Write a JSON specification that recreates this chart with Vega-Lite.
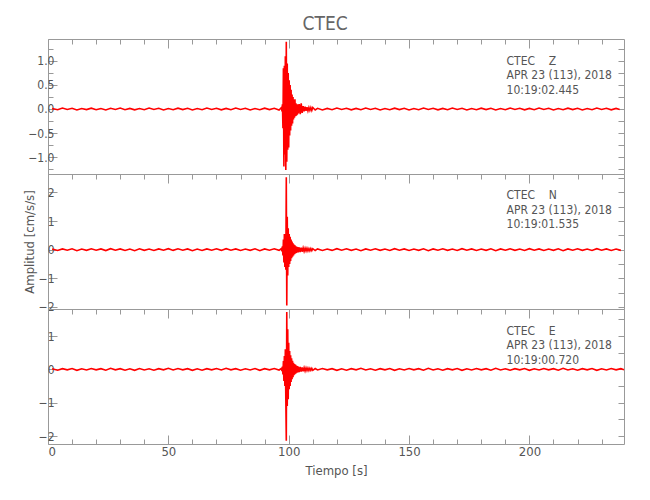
{
"$schema": "https://vega.github.io/schema/vega-lite/v6.json",
"padding": {"left": 22, "top": 15, "right": 5, "bottom": 5},
"title": {"text": "CTEC", "fontSize": 19, "color": "#666", "fontWeight": "normal", "anchor": "middle", "offset": 4},
"bounds": "flush",
"datasets": {
"Z": [
{"t":1.7,"a":0.01},{"t":4,"a":-0.015},{"t":6,"a":0.02},{"t":8,"a":-0.01},{"t":10,"a":0.015},{"t":12,"a":-0.02},{"t":14,"a":0.01},{"t":16,"a":-0.012},{"t":18,"a":0.018},{"t":20,"a":-0.015},{"t":22,"a":0.01},{"t":24,"a":-0.02},{"t":26,"a":0.015},{"t":28,"a":-0.01},{"t":30,"a":0.02},{"t":32,"a":-0.015},{"t":34,"a":0.012},{"t":36,"a":-0.018},{"t":38,"a":0.01},{"t":40,"a":-0.015},{"t":42,"a":0.02},{"t":44,"a":-0.01},{"t":46,"a":0.015},{"t":48,"a":-0.02},{"t":50,"a":0.01},{"t":52,"a":-0.015},{"t":54,"a":0.018},{"t":56,"a":-0.012},{"t":58,"a":0.015},{"t":60,"a":-0.02},{"t":62,"a":0.01},{"t":64,"a":-0.015},{"t":66,"a":0.02},{"t":68,"a":-0.01},{"t":70,"a":0.015},{"t":72,"a":-0.018},{"t":74,"a":0.012},{"t":76,"a":-0.015},{"t":78,"a":0.02},{"t":80,"a":-0.01},{"t":82,"a":0.015},{"t":84,"a":-0.02},{"t":86,"a":0.01},{"t":88,"a":-0.015},{"t":90,"a":0.018},{"t":92,"a":-0.012},{"t":94,"a":0.015},{"t":96,"a":-0.02},
{"t":97.0,"a":0.03},{"t":97.2,"a":-0.05},{"t":97.4,"a":0.1},{"t":97.6,"a":-0.4},{"t":97.8,"a":0.85},{"t":98.0,"a":-1.2},{"t":98.2,"a":0.9},{"t":98.4,"a":-0.95},{"t":98.6,"a":1.1},{"t":98.8,"a":-1.27},{"t":99.0,"a":1.4},{"t":99.2,"a":-1.1},{"t":99.4,"a":0.95},{"t":99.6,"a":-0.85},{"t":99.8,"a":0.75},{"t":100.0,"a":-0.8},{"t":100.2,"a":0.6},{"t":100.4,"a":-0.55},{"t":100.6,"a":0.5},{"t":100.8,"a":-0.45},{"t":101.0,"a":0.4},{"t":101.2,"a":-0.35},{"t":101.4,"a":0.3},{"t":101.6,"a":-0.3},{"t":101.8,"a":0.25},{"t":102.0,"a":-0.22},{"t":102.2,"a":0.2},{"t":102.4,"a":-0.18},{"t":102.6,"a":0.2},{"t":102.8,"a":-0.15},{"t":103.0,"a":0.12},{"t":103.2,"a":-0.14},{"t":103.4,"a":0.1},{"t":103.6,"a":-0.12},{"t":103.8,"a":0.1},{"t":104.0,"a":-0.09},{"t":104.4,"a":0.1},{"t":104.8,"a":-0.11},{"t":105.2,"a":0.12},{"t":105.6,"a":-0.08},{"t":106.0,"a":0.06},{"t":106.4,"a":-0.05},{"t":106.8,"a":0.05},{"t":107.2,"a":-0.04},{"t":107.6,"a":0.04},{"t":108.0,"a":-0.04},{"t":108.4,"a":0.03},{"t":108.8,"a":-0.03},{"t":109.2,"a":0.03},{"t":109.6,"a":-0.03},{"t":110.0,"a":0.03},{"t":111.0,"a":-0.02},
{"t":112,"a":0.015},{"t":114,"a":-0.02},{"t":116,"a":0.012},{"t":118,"a":-0.015},{"t":120,"a":0.02},{"t":122,"a":-0.01},{"t":124,"a":0.015},{"t":126,"a":-0.018},{"t":128,"a":0.012},{"t":130,"a":-0.015},{"t":132,"a":0.02},{"t":134,"a":-0.01},{"t":136,"a":0.015},{"t":138,"a":-0.02},{"t":140,"a":0.01},{"t":142,"a":-0.015},{"t":144,"a":0.018},{"t":146,"a":-0.012},{"t":148,"a":0.015},{"t":150,"a":-0.02},{"t":152,"a":0.01},{"t":154,"a":-0.015},{"t":156,"a":0.02},{"t":158,"a":-0.01},{"t":160,"a":0.015},{"t":162,"a":-0.018},{"t":164,"a":0.012},{"t":166,"a":-0.015},{"t":168,"a":0.02},{"t":170,"a":-0.01},{"t":172,"a":0.015},{"t":174,"a":-0.02},{"t":176,"a":0.01},{"t":178,"a":-0.015},{"t":180,"a":0.018},{"t":182,"a":-0.012},{"t":184,"a":0.015},{"t":186,"a":-0.02},{"t":188,"a":0.01},{"t":190,"a":-0.015},{"t":192,"a":0.02},{"t":194,"a":-0.01},{"t":196,"a":0.015},{"t":198,"a":-0.018},{"t":200,"a":0.012},{"t":202,"a":-0.015},{"t":204,"a":0.02},{"t":206,"a":-0.01},{"t":208,"a":0.015},{"t":210,"a":-0.02},{"t":212,"a":0.01},{"t":214,"a":-0.015},{"t":216,"a":0.018},{"t":218,"a":-0.012},{"t":220,"a":0.015},{"t":222,"a":-0.02},{"t":224,"a":0.01},{"t":226,"a":-0.015},{"t":228,"a":0.02},{"t":230,"a":-0.01},{"t":232,"a":0.015},{"t":234,"a":-0.018},{"t":236,"a":0.012},{"t":237.5,"a":-0.01}
],
"N": [
{"t":1.7,"a":0.02},{"t":4,"a":-0.03},{"t":6,"a":0.025},{"t":8,"a":-0.02},{"t":10,"a":0.03},{"t":12,"a":-0.035},{"t":14,"a":0.02},{"t":16,"a":-0.025},{"t":18,"a":0.03},{"t":20,"a":-0.02},{"t":22,"a":0.025},{"t":24,"a":-0.03},{"t":26,"a":0.035},{"t":28,"a":-0.02},{"t":30,"a":0.025},{"t":32,"a":-0.03},{"t":34,"a":0.02},{"t":36,"a":-0.035},{"t":38,"a":0.03},{"t":40,"a":-0.025},{"t":42,"a":0.02},{"t":44,"a":-0.03},{"t":46,"a":0.025},{"t":48,"a":-0.02},{"t":50,"a":0.035},{"t":52,"a":-0.025},{"t":54,"a":0.03},{"t":56,"a":-0.02},{"t":58,"a":0.025},{"t":60,"a":-0.035},{"t":62,"a":0.02},{"t":64,"a":-0.03},{"t":66,"a":0.025},{"t":68,"a":-0.02},{"t":70,"a":0.03},{"t":72,"a":-0.025},{"t":74,"a":0.035},{"t":76,"a":-0.02},{"t":78,"a":0.025},{"t":80,"a":-0.03},{"t":82,"a":0.02},{"t":84,"a":-0.025},{"t":86,"a":0.03},{"t":88,"a":-0.035},{"t":90,"a":0.025},{"t":92,"a":-0.02},{"t":94,"a":0.03},{"t":96,"a":-0.025},
{"t":97.0,"a":0.04},{"t":97.2,"a":-0.06},{"t":97.4,"a":0.12},{"t":97.6,"a":-0.2},{"t":97.8,"a":0.35},{"t":98.0,"a":-0.45},{"t":98.2,"a":0.55},{"t":98.4,"a":-0.6},{"t":98.6,"a":0.5},{"t":98.8,"a":-0.7},{"t":99.0,"a":2.53},{"t":99.2,"a":-1.95},{"t":99.4,"a":1.15},{"t":99.6,"a":-0.9},{"t":99.8,"a":0.75},{"t":100.0,"a":-0.6},{"t":100.2,"a":0.55},{"t":100.4,"a":-0.5},{"t":100.6,"a":0.45},{"t":100.8,"a":-0.4},{"t":101.0,"a":0.35},{"t":101.2,"a":-0.3},{"t":101.4,"a":0.28},{"t":101.6,"a":-0.25},{"t":101.8,"a":0.22},{"t":102.0,"a":-0.2},{"t":102.2,"a":0.18},{"t":102.4,"a":-0.16},{"t":102.6,"a":0.15},{"t":102.8,"a":-0.13},{"t":103.0,"a":0.12},{"t":103.2,"a":-0.11},{"t":103.4,"a":0.1},{"t":103.6,"a":-0.1},{"t":103.8,"a":0.09},{"t":104.0,"a":-0.09},{"t":104.4,"a":0.08},{"t":104.8,"a":-0.08},{"t":105.2,"a":0.07},{"t":105.6,"a":-0.07},{"t":106.0,"a":0.06},{"t":106.4,"a":-0.06},{"t":106.8,"a":0.05},{"t":107.2,"a":-0.05},{"t":107.6,"a":0.05},{"t":108.0,"a":-0.045},{"t":108.4,"a":0.04},{"t":108.8,"a":-0.04},{"t":109.2,"a":0.04},{"t":109.6,"a":-0.035},{"t":110.0,"a":0.035},{"t":111.0,"a":-0.03},
{"t":112,"a":0.025},{"t":114,"a":-0.03},{"t":116,"a":0.02},{"t":118,"a":-0.025},{"t":120,"a":0.035},{"t":122,"a":-0.02},{"t":124,"a":0.03},{"t":126,"a":-0.025},{"t":128,"a":0.02},{"t":130,"a":-0.035},{"t":132,"a":0.025},{"t":134,"a":-0.02},{"t":136,"a":0.03},{"t":138,"a":-0.025},{"t":140,"a":0.02},{"t":142,"a":-0.03},{"t":144,"a":0.035},{"t":146,"a":-0.02},{"t":148,"a":0.025},{"t":150,"a":-0.03},{"t":152,"a":0.02},{"t":154,"a":-0.025},{"t":156,"a":0.03},{"t":158,"a":-0.035},{"t":160,"a":0.025},{"t":162,"a":-0.02},{"t":164,"a":0.03},{"t":166,"a":-0.025},{"t":168,"a":0.02},{"t":170,"a":-0.03},{"t":172,"a":0.035},{"t":174,"a":-0.02},{"t":176,"a":0.025},{"t":178,"a":-0.03},{"t":180,"a":0.02},{"t":182,"a":-0.025},{"t":184,"a":0.03},{"t":186,"a":-0.035},{"t":188,"a":0.025},{"t":190,"a":-0.02},{"t":192,"a":0.03},{"t":194,"a":-0.025},{"t":196,"a":0.02},{"t":198,"a":-0.03},{"t":200,"a":0.035},{"t":202,"a":-0.02},{"t":204,"a":0.025},{"t":206,"a":-0.03},{"t":208,"a":0.02},{"t":210,"a":-0.025},{"t":212,"a":0.03},{"t":214,"a":-0.035},{"t":216,"a":0.025},{"t":218,"a":-0.02},{"t":220,"a":0.03},{"t":222,"a":-0.025},{"t":224,"a":0.02},{"t":226,"a":-0.03},{"t":228,"a":0.035},{"t":230,"a":-0.02},{"t":232,"a":0.025},{"t":234,"a":-0.03},{"t":236,"a":0.02},{"t":238,"a":-0.025}
],
"E": [
{"t":1.7,"a":0.015},{"t":4,"a":-0.025},{"t":6,"a":0.02},{"t":8,"a":-0.015},{"t":10,"a":0.025},{"t":12,"a":-0.03},{"t":14,"a":0.015},{"t":16,"a":-0.02},{"t":18,"a":0.025},{"t":20,"a":-0.015},{"t":22,"a":0.02},{"t":24,"a":-0.025},{"t":26,"a":0.03},{"t":28,"a":-0.015},{"t":30,"a":0.02},{"t":32,"a":-0.025},{"t":34,"a":0.015},{"t":36,"a":-0.03},{"t":38,"a":0.025},{"t":40,"a":-0.02},{"t":42,"a":0.015},{"t":44,"a":-0.025},{"t":46,"a":0.02},{"t":48,"a":-0.015},{"t":50,"a":0.03},{"t":52,"a":-0.02},{"t":54,"a":0.025},{"t":56,"a":-0.015},{"t":58,"a":0.02},{"t":60,"a":-0.03},{"t":62,"a":0.015},{"t":64,"a":-0.025},{"t":66,"a":0.02},{"t":68,"a":-0.015},{"t":70,"a":0.025},{"t":72,"a":-0.02},{"t":74,"a":0.03},{"t":76,"a":-0.015},{"t":78,"a":0.02},{"t":80,"a":-0.025},{"t":82,"a":0.015},{"t":84,"a":-0.02},{"t":86,"a":0.025},{"t":88,"a":-0.03},{"t":90,"a":0.02},{"t":92,"a":-0.015},{"t":94,"a":0.025},{"t":96,"a":-0.02},
{"t":97.0,"a":0.03},{"t":97.2,"a":-0.05},{"t":97.4,"a":0.08},{"t":97.6,"a":-0.15},{"t":97.8,"a":0.25},{"t":98.0,"a":-0.35},{"t":98.2,"a":0.4},{"t":98.4,"a":-0.5},{"t":98.6,"a":0.6},{"t":98.8,"a":-0.9},{"t":99.0,"a":-2.14},{"t":99.2,"a":1.72},{"t":99.4,"a":-1.1},{"t":99.6,"a":1.2},{"t":99.8,"a":-0.9},{"t":100.0,"a":0.8},{"t":100.2,"a":-0.6},{"t":100.4,"a":0.55},{"t":100.6,"a":-0.5},{"t":100.8,"a":0.42},{"t":101.0,"a":-0.38},{"t":101.2,"a":0.33},{"t":101.4,"a":-0.3},{"t":101.6,"a":0.26},{"t":101.8,"a":-0.24},{"t":102.0,"a":0.2},{"t":102.2,"a":-0.18},{"t":102.4,"a":0.16},{"t":102.6,"a":-0.15},{"t":102.8,"a":0.14},{"t":103.0,"a":-0.12},{"t":103.2,"a":0.11},{"t":103.4,"a":-0.1},{"t":103.6,"a":0.1},{"t":103.8,"a":-0.09},{"t":104.0,"a":0.08},{"t":104.4,"a":-0.08},{"t":104.8,"a":0.07},{"t":105.2,"a":-0.07},{"t":105.6,"a":0.06},{"t":106.0,"a":-0.06},{"t":106.4,"a":0.05},{"t":106.8,"a":-0.05},{"t":107.2,"a":0.045},{"t":107.6,"a":-0.04},{"t":108.0,"a":0.04},{"t":108.4,"a":-0.035},{"t":108.8,"a":0.035},{"t":109.2,"a":-0.03},{"t":109.6,"a":0.03},{"t":110.0,"a":-0.03},{"t":111.0,"a":0.025},
{"t":112,"a":-0.02},{"t":114,"a":0.025},{"t":116,"a":-0.015},{"t":118,"a":0.02},{"t":120,"a":-0.03},{"t":122,"a":0.015},{"t":124,"a":-0.025},{"t":126,"a":0.02},{"t":128,"a":-0.015},{"t":130,"a":0.03},{"t":132,"a":-0.02},{"t":134,"a":0.015},{"t":136,"a":-0.025},{"t":138,"a":0.02},{"t":140,"a":-0.015},{"t":142,"a":0.025},{"t":144,"a":-0.03},{"t":146,"a":0.015},{"t":148,"a":-0.02},{"t":150,"a":0.025},{"t":152,"a":-0.015},{"t":154,"a":0.02},{"t":156,"a":-0.025},{"t":158,"a":0.03},{"t":160,"a":-0.02},{"t":162,"a":0.015},{"t":164,"a":-0.025},{"t":166,"a":0.02},{"t":168,"a":-0.015},{"t":170,"a":0.025},{"t":172,"a":-0.03},{"t":174,"a":0.015},{"t":176,"a":-0.02},{"t":178,"a":0.025},{"t":180,"a":-0.015},{"t":182,"a":0.02},{"t":184,"a":-0.025},{"t":186,"a":0.03},{"t":188,"a":-0.02},{"t":190,"a":0.015},{"t":192,"a":-0.025},{"t":194,"a":0.02},{"t":196,"a":-0.015},{"t":198,"a":0.025},{"t":200,"a":-0.03},{"t":202,"a":0.015},{"t":204,"a":-0.02},{"t":206,"a":0.025},{"t":208,"a":-0.015},{"t":210,"a":0.02},{"t":212,"a":-0.025},{"t":214,"a":0.03},{"t":216,"a":-0.02},{"t":218,"a":0.015},{"t":220,"a":-0.025},{"t":222,"a":0.02},{"t":224,"a":-0.015},{"t":226,"a":0.025},{"t":228,"a":-0.03},{"t":230,"a":0.015},{"t":232,"a":-0.02},{"t":234,"a":0.025},{"t":236,"a":-0.015},{"t":238,"a":0.02},{"t":239.3,"a":-0.01}
]
},
"vconcat": [
{
"width": 576, "height": 135,
"layer": [
{"data": {"name": "Z"},
 "mark": {"type": "line", "color": "#ff0000", "strokeWidth": 1.6, "clip": false},
 "encoding": {
  "x": {"field": "t", "type": "quantitative", "scale": {"domain": [0, 239.3], "nice": false, "zero": false}, "axis": null},
  "y": {"field": "a", "type": "quantitative", "scale": {"domain": [-1.354, 1.458], "nice": false, "zero": false},
        "axis": {"orient": "left", "title": null, "values": [-1.25,-1,-0.75,-0.5,-0.25,0,0.25,0.5,0.75,1,1.25], "format": ".1f", "labelExpr": "datum.value % 0.5 === 0 ? datum.label : ''", "tickSize": {"condition": {"test": "datum.value % 0.5 === 0", "value": -9}, "value": -5}, "labelPadding": 3}}
 }},
{"data": {"values": [{}]},
 "mark": {"type": "text", "align": "left", "baseline": "alphabetic", "fontSize": 12, "lineHeight": 14.5, "color": "#555", "text": ["CTEC\u00a0\u00a0\u00a0\u00a0Z", "APR 23 (113), 2018", "10:19:02.445"]},
 "encoding": {
  "x": {"datum": 190.5, "type": "quantitative", "axis": {"orient": "top", "title": null, "labels": false, "values": [0,10,20,30,40,50,60,70,80,90,100,110,120,130,140,150,160,170,180,190,200,210,220,230], "tickSize": {"condition": {"test": "datum.value % 50 === 0", "value": -9}, "value": -5}}},
  "y": {"datum": 0.917, "type": "quantitative", "axis": {"orient": "right", "title": null, "labels": false, "values": [-1.25,-1,-0.75,-0.5,-0.25,0,0.25,0.5,0.75,1,1.25], "tickSize": -6}}
 }}
],
"resolve": {"axis": {"x": "independent", "y": "independent"}}
},
{
"width": 576, "height": 135,
"layer": [
{"data": {"name": "N"},
 "mark": {"type": "line", "color": "#ff0000", "strokeWidth": 1.6, "clip": false},
 "encoding": {
  "x": {"field": "t", "type": "quantitative", "scale": {"domain": [0, 239.3], "nice": false, "zero": false}, "axis": null},
  "y": {"field": "a", "type": "quantitative", "scale": {"domain": [-2.07, 2.64], "nice": false, "zero": false},
        "axis": {"orient": "left", "title": "Amplitud [cm/s/s]", "titlePadding": 2, "values": [-2,-1.5,-1,-0.5,0,0.5,1,1.5,2,2.5], "format": "d", "labelExpr": "datum.value % 1 === 0 ? datum.label : ''", "tickSize": {"condition": {"test": "datum.value % 1 === 0", "value": -9}, "value": -5}, "labelPadding": 3}}
 }},
{"data": {"values": [{}]},
 "mark": {"type": "text", "align": "left", "baseline": "alphabetic", "fontSize": 12, "lineHeight": 14.5, "color": "#555", "text": ["CTEC\u00a0\u00a0\u00a0\u00a0N", "APR 23 (113), 2018", "10:19:01.535"]},
 "encoding": {
  "x": {"datum": 190.5, "type": "quantitative", "axis": {"orient": "top", "title": null, "labels": false, "values": [0,10,20,30,40,50,60,70,80,90,100,110,120,130,140,150,160,170,180,190,200,210,220,230], "tickSize": {"condition": {"test": "datum.value % 50 === 0", "value": -9}, "value": -5}}},
  "y": {"datum": 1.767, "type": "quantitative", "axis": {"orient": "right", "title": null, "labels": false, "values": [-2,-1.5,-1,-0.5,0,0.5,1,1.5,2,2.5], "tickSize": -6}}
 }}
],
"resolve": {"axis": {"x": "independent", "y": "independent"}}
},
{
"width": 576, "height": 135,
"layer": [
{"data": {"name": "E"},
 "mark": {"type": "line", "color": "#ff0000", "strokeWidth": 1.6, "clip": false},
 "encoding": {
  "x": {"field": "t", "type": "quantitative", "scale": {"domain": [0, 239.3], "nice": false, "zero": false},
        "axis": {"orient": "bottom", "title": "Tiempo [s]", "titlePadding": 6, "values": [0,10,20,30,40,50,60,70,80,90,100,110,120,130,140,150,160,170,180,190,200,210,220,230], "format": "d", "labelExpr": "datum.value % 50 === 0 ? datum.label : ''", "tickSize": {"condition": {"test": "datum.value % 50 === 0", "value": -9}, "value": -5}, "labelPadding": 10, "labelFontSize": 13}},
  "y": {"field": "a", "type": "quantitative", "scale": {"domain": [-2.24, 1.81], "nice": false, "zero": false},
        "axis": {"orient": "left", "title": null, "values": [-2,-1.5,-1,-0.5,0,0.5,1,1.5], "format": "d", "labelExpr": "datum.value % 1 === 0 ? datum.label : ''", "tickSize": {"condition": {"test": "datum.value % 1 === 0", "value": -9}, "value": -5}, "labelPadding": 3}}
 }},
{"data": {"values": [{}]},
 "mark": {"type": "text", "align": "left", "baseline": "alphabetic", "fontSize": 12, "lineHeight": 14.5, "color": "#555", "text": ["CTEC\u00a0\u00a0\u00a0\u00a0E", "APR 23 (113), 2018", "10:19:00.720"]},
 "encoding": {
  "x": {"datum": 190.5, "type": "quantitative", "axis": {"orient": "top", "title": null, "labels": false, "values": [0,10,20,30,40,50,60,70,80,90,100,110,120,130,140,150,160,170,180,190,200,210,220,230], "tickSize": {"condition": {"test": "datum.value % 50 === 0", "value": -9}, "value": -5}}},
  "y": {"datum": 1.04, "type": "quantitative", "axis": {"orient": "right", "title": null, "labels": false, "values": [-2,-1.5,-1,-0.5,0,0.5,1,1.5], "tickSize": -6}}
 }}
],
"resolve": {"axis": {"x": "independent", "y": "independent"}}
}
],
"spacing": 0,
"config": {
 "font": "Liberation Sans Narrow, DejaVu Sans Condensed, Liberation Sans, sans-serif",
 "view": {"stroke": "#999", "strokeWidth": 1},
 "axis": {"domain": false, "grid": false, "tickColor": "#999", "tickWidth": 1, "labelColor": "#555", "titleColor": "#555", "labelFontSize": 12, "titleFontSize": 13, "titleFontWeight": "normal", "labelFont": "Liberation Sans Narrow, DejaVu Sans Condensed, Liberation Sans, sans-serif", "titleFont": "Liberation Sans Narrow, DejaVu Sans Condensed, Liberation Sans, sans-serif"},
 "text": {"font": "Liberation Sans Narrow, DejaVu Sans Condensed, Liberation Sans, sans-serif"}
}
}
